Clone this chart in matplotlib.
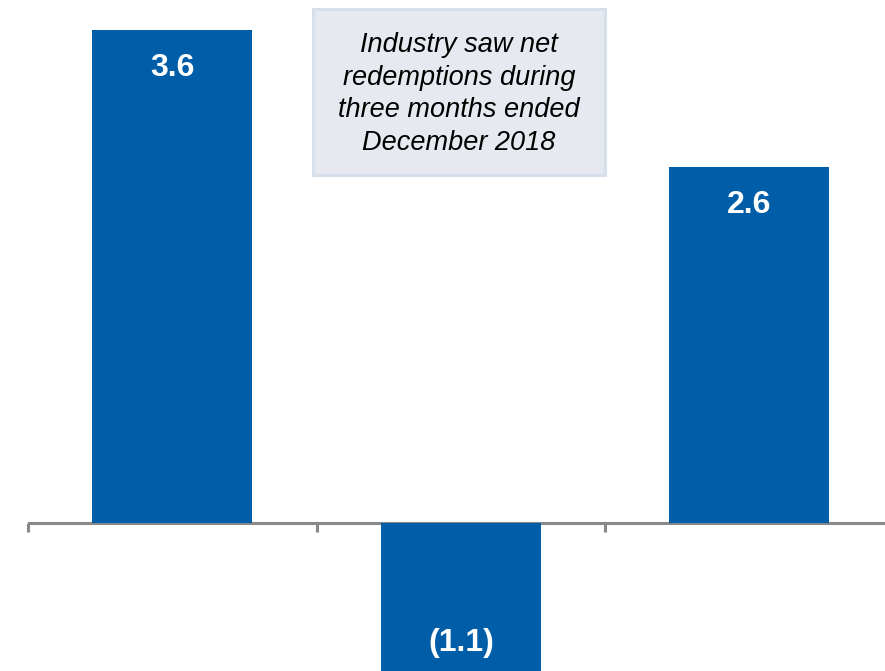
import matplotlib.pyplot as plt
from matplotlib.patches import Rectangle

# dati
categories = ['A', 'B', 'C']
values = [3.6, -1.1, 2.6]
labels = ['3.6', '(1.1)', '2.6']
note = 'Industry saw net\nredemptions during\nthree months ended\nDecember 2018'

blue = '#005EA8'
W, H = 885, 671

plt.rcParams['font.family'] = ['Liberation Sans', 'DejaVu Sans']

fig = plt.figure(figsize=(W / 100, H / 100), dpi=100)
ax = fig.add_axes([28 / W, 0, 857 / W, 1])

x = list(range(len(categories)))
ax.bar(x, values, width=0.555, color=blue, zorder=2)

ax.set_xlim(-0.5, 2.47)
ax.set_ylim(-1.080, 3.818)

# etichette dentro le barre
for xi, v, lab in zip(x, values, labels):
    y = v - 0.277 if v > 0 else v + 0.226
    ax.text(xi, y, lab, ha='center', va='center', color='white',
            fontsize=23, fontweight='bold', zorder=3)

# asse orizzontale con tacche tra le categorie
ax.axhline(0, color='#888888', lw=2.2, zorder=1)
for b in [-0.5, 0.5, 1.5, 2.5]:
    ax.plot([b, b], [0, -0.065], color='#888888', lw=2.2, zorder=1,
            solid_capstyle='butt', clip_on=False)

ax.axis('off')

# riquadro di nota
box = Rectangle((313 / W, 1 - 175 / H), 292 / W, 166 / H, transform=fig.transFigure,
                facecolor='#E6EAF0', edgecolor='#D6DFEA', lw=2.2, zorder=5)
fig.patches.append(box)
fig.text(459 / W, 1 - 94 / H, note, ha='center', va='center', fontsize=19.5,
         style='italic', color='black', linespacing=1.33, zorder=6)

fig.savefig('out.png', dpi=100)
